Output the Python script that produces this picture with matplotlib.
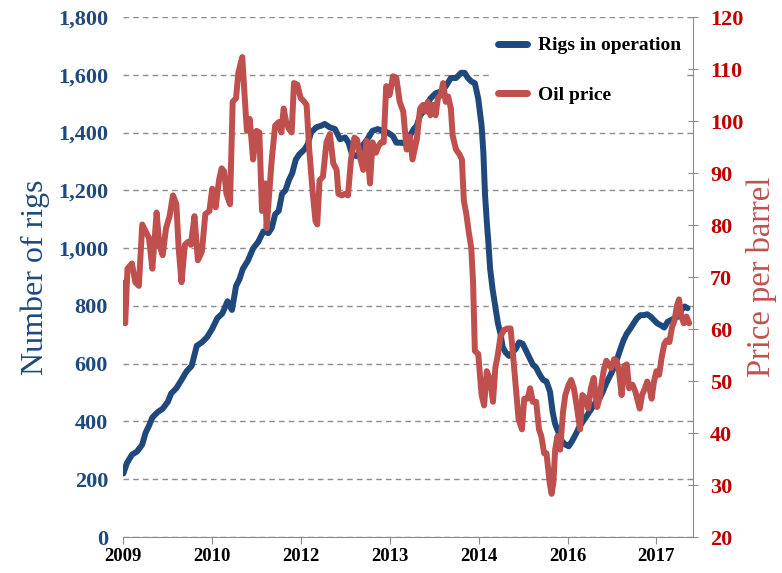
import matplotlib
matplotlib.use("Agg")
import matplotlib.pyplot as plt
from matplotlib.ticker import FuncFormatter, MultipleLocator
from matplotlib.lines import Line2D

# days counted from the first weekly reading (early July 2009)
rig_days = [0, 19, 48, 77, 106, 125, 144, 163, 192, 221, 250, 269, 298, 327, 356, 384,
            413, 442, 471, 500, 528, 557, 586, 611, 634, 653, 672, 701, 730, 759, 788,
            816, 835, 854, 874, 893, 912, 931, 950, 970, 989, 1018, 1037, 1056, 1085,
            1114, 1133, 1162, 1191, 1219, 1248, 1267, 1287, 1315, 1344, 1373, 1402,
            1431, 1459, 1488, 1517, 1536, 1565, 1594, 1613, 1632, 1651, 1670, 1699,
            1728, 1757, 1786, 1814, 1843, 1872, 1901, 1920, 1939, 1958, 1978, 1997,
            2016, 2026, 2035, 2045, 2055, 2064, 2078, 2093, 2108, 2122, 2135, 2151,
            2170, 2189, 2208, 2227, 2247, 2266, 2285, 2304, 2323, 2343, 2362, 2381,
            2401, 2416, 2430, 2449, 2468, 2487, 2506, 2525, 2545, 2564, 2583, 2602,
            2621, 2641, 2660, 2679, 2698, 2718, 2737, 2756, 2775, 2794, 2814, 2833,
            2852, 2871, 2890, 2910, 2929, 2948, 2967, 2986, 3006, 3025, 3044, 3063,
            3082, 3102, 3121, 3140, 3159, 3175]
rig_count = [220, 255, 285, 296, 320, 361, 385, 414, 432, 444, 468, 497, 515, 544, 574, 592,
             662, 674, 692, 721, 757, 774, 816, 786, 869, 892, 928, 957, 999, 1022, 1058,
             1052, 1070, 1117, 1129, 1188, 1200, 1235, 1259, 1306, 1324, 1341, 1359, 1400, 1418,
             1424, 1430, 1418, 1412, 1377, 1383, 1365, 1324, 1318, 1353, 1377, 1406,
             1412, 1406, 1400, 1388, 1365, 1365, 1360, 1390, 1410, 1424, 1459, 1483,
             1518, 1536, 1542, 1560, 1589, 1589, 1607, 1607, 1589, 1577, 1571, 1518,
             1424, 1330, 1188, 1093, 1011, 928, 857, 798, 739, 704, 657, 639,
             627, 639, 651, 674, 669, 645, 621, 597, 586, 562, 544, 538,
             503, 432, 391, 361, 332, 320, 314, 332, 355, 379, 397, 414,
             432, 450, 468, 479, 503, 533, 556, 580, 609, 645, 680, 704,
             721, 739, 757, 768, 768, 771, 763, 751, 739, 733, 725, 745,
             751, 757, 763, 786, 798, 792]

oil_days = [0, 10, 23, 48, 67, 87, 106, 125, 144, 163, 187, 202, 221, 240, 260, 279, 298,
            311, 327, 346, 365, 380, 400, 419, 442, 461, 484, 500, 519, 538, 553, 567,
            580, 600, 615, 634, 647, 669, 682, 695, 711, 730, 749, 765, 780, 797, 806,
            835, 854, 874, 889, 902, 916, 931, 947, 960, 979, 998, 1018, 1031, 1046,
            1066, 1081, 1091, 1104, 1123, 1143, 1162, 1181, 1200, 1210, 1229, 1248,
            1264, 1281, 1300, 1315, 1335, 1350, 1369, 1388, 1402, 1421, 1436, 1450,
            1465, 1479, 1498, 1517, 1536, 1555, 1575, 1594, 1613, 1627, 1651, 1670,
            1686, 1699, 1713, 1728, 1743, 1757, 1770, 1786, 1799, 1814, 1828, 1843,
            1853, 1872, 1891, 1905, 1916, 1930, 1943, 1958, 1968, 1978, 1997, 2016,
            2030, 2045, 2064, 2080, 2093, 2108, 2122, 2141, 2160, 2179, 2189, 2204,
            2224, 2243, 2256, 2275, 2289, 2304, 2323, 2339, 2352, 2368, 2381, 2400,
            2410, 2420, 2430, 2443, 2458, 2474, 2487, 2506, 2520, 2535, 2551, 2570,
            2583, 2602, 2616, 2631, 2647, 2666, 2679, 2693, 2704, 2718, 2731, 2746,
            2762, 2775, 2789, 2804, 2819, 2833, 2846, 2865, 2881, 2896, 2906, 2919,
            2935, 2948, 2961, 2973, 2986, 3000, 3015, 3029, 3044, 3057, 3073, 3088,
            3102, 3115, 3127, 3140, 3154, 3169, 3184]
oil_price = [68.9, 61.1, 71.6, 72.6, 69.0, 68.3, 80.1, 78.8, 77.5, 71.6, 82.4, 76.2, 74.2, 79.4, 81.7, 85.7, 84.0,
             75.5, 69.0, 76.2, 76.8, 76.2, 81.7, 73.2, 74.9, 82.1, 82.7, 87.0, 83.4, 88.6, 90.9, 90.3,
             86.0, 84.0, 103.7, 104.4, 109.3, 112.3, 105.0, 98.1, 100.4, 92.6, 98.1, 97.8, 82.7, 88.0, 79.4,
             92.6, 99.1, 99.8, 97.8, 102.4, 99.8, 98.5, 97.8, 107.3, 107.0, 104.4, 103.7, 103.1, 94.5,
             86.0, 80.8, 80.1, 88.6, 89.3, 95.9, 97.5, 91.9, 90.6, 86.0, 85.7, 86.0,
             85.7, 92.6, 96.8, 96.4, 92.6, 90.6, 96.2, 88.0, 95.9, 93.9, 95.2, 95.9,
             95.9, 106.7, 105.0, 108.6, 108.3, 103.7, 101.8, 94.5, 97.0, 92.6, 96.4, 102.4,
             103.1, 101.8, 103.7, 101.1, 103.1, 101.1, 104.4, 105.0, 107.3, 103.7, 104.7, 102.4,
             97.2, 94.5, 93.6, 92.6, 84.7, 82.1, 78.8, 75.5, 69.0, 55.8, 55.2, 47.3,
             45.3, 51.9, 50.2, 46.0, 52.5, 55.2, 58.5, 59.8, 60.1, 60.1, 56.5, 50.6,
             42.7, 40.7, 46.6, 46.6, 48.6, 46.0, 46.0, 40.7, 39.4, 36.1, 36.1, 30.2,
             28.3, 30.5, 36.8, 39.4, 36.8, 44.0, 47.3, 49.3, 50.2, 48.6, 45.3, 40.7,
             47.3, 46.6, 44.7, 48.6, 50.6, 45.0, 46.6, 49.9, 52.2, 53.9, 53.2, 52.5,
             54.2, 53.9, 51.9, 47.3, 52.9, 53.2, 48.6, 49.3, 48.0, 46.0, 44.7, 47.3,
             48.6, 49.9, 48.6, 46.6, 49.9, 51.9, 51.2, 54.5, 57.1, 57.8, 57.5, 60.4,
             61.7, 64.4, 65.7, 62.4, 61.1, 62.4, 61.1]

# excel put the year ticks 500 days apart, hence the odd labels
tick_days = [0, 500, 1000, 1500, 2000, 2500, 3000]
tick_labels = ["2009", "2010", "2012", "2013", "2014", "2016", "2017"]

blue = "#1F497D"
red = "#C0504D"
axis_gray = "#8C8C8C"

plt.rcParams["font.family"] = ["Liberation Serif", "DejaVu Serif"]

fig = plt.figure(figsize=(7.82, 5.73), dpi=100)
ax1 = fig.add_axes([0.1578, 0.0628, 0.7280, 0.9075])
ax2 = ax1.twinx()

ax1.plot(rig_days, rig_count, color=blue, lw=4.3, solid_capstyle="round", solid_joinstyle="round")
ax2.plot(oil_days, oil_price, color=red, lw=4.3, solid_capstyle="round", solid_joinstyle="round")

ax1.set_xlim(0, 3204)
ax1.set_ylim(0, 1800)
ax2.set_ylim(20, 120)
ax1.yaxis.set_major_locator(MultipleLocator(200))
ax2.yaxis.set_major_locator(MultipleLocator(10))
ax1.yaxis.set_major_formatter(FuncFormatter(lambda v, p: f"{int(v):,}"))

ax1.set_xticks(tick_days)
ax1.set_xticklabels(tick_labels)

ax1.grid(axis="y", color="#8C8C8C", ls=(0, (4, 3)), lw=1.0)
ax1.set_axisbelow(True)

for s in ["top", "left", "right"]:
    ax1.spines[s].set_visible(False)
    ax2.spines[s].set_visible(s == "right")
ax2.spines["bottom"].set_visible(False)
ax1.spines["bottom"].set_color(axis_gray)
ax2.spines["right"].set_color(axis_gray)

ax1.tick_params(axis="x", direction="out", length=5, color=axis_gray, pad=3,
                labelsize=13.5, labelcolor="black")
ax1.tick_params(axis="y", length=0, pad=11, labelsize=16, labelcolor=blue)
ax2.tick_params(axis="y", direction="inout", length=7, color=axis_gray, pad=9,
                labelsize=16, labelcolor="#C00000")
for lab in ax1.get_xticklabels() + ax1.get_yticklabels() + ax2.get_yticklabels():
    lab.set_fontweight("bold")

ax1.set_ylabel("Number of rigs", color=blue, fontsize=23, labelpad=6)
ax2.set_ylabel("Price per barrel", color=red, fontsize=23.5, labelpad=2)

# legend sits on ax1 so the right spine of ax2 stays on top of its white box
handles = [Line2D([], [], color=blue, lw=5, solid_capstyle="round"),
           Line2D([], [], color=red, lw=5, solid_capstyle="round")]
leg = ax1.legend(handles, ["Rigs in operation", "Oil price"], loc="upper right",
                 bbox_to_anchor=(0.879, 0.946), bbox_transform=fig.transFigure,
                 frameon=True, facecolor="white", edgecolor="none", framealpha=1,
                 fancybox=False, prop={"weight": "bold", "size": 14},
                 handlelength=1.5, handletextpad=0.6, labelspacing=1.65, borderpad=0.3,
                 borderaxespad=0)
leg.set_zorder(5)

fig.savefig("out.png", dpi=100)
